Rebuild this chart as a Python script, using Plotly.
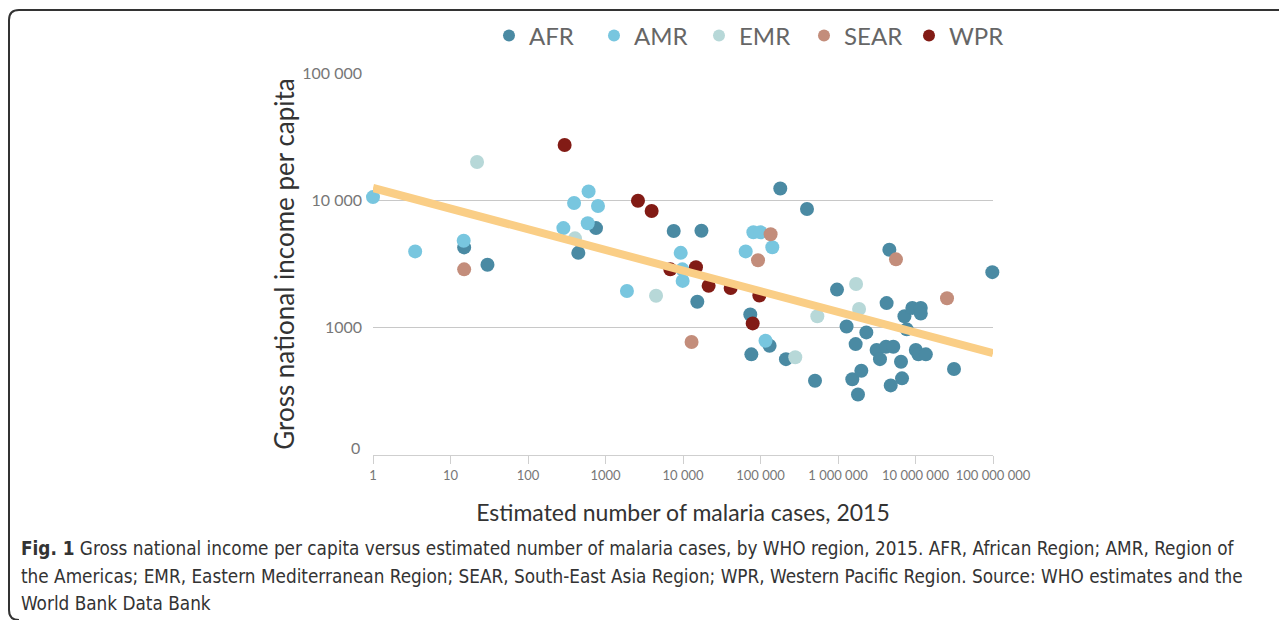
import plotly.graph_objects as go

# Data (cases, GNI per capita)
regions = ["AFR", "AMR", "EMR", "SEAR", "WPR"]
region_colors = ["#4A8AA3", "#78C6DF", "#B7D8D8", "#C38D7B", "#821B15"]

afr_cases = [15, 30, 754, 446, 7590, 17300, 15300, 180000, 398000, 73800,
             76200, 131000, 213000, 971000, 505000, 1.29e6, 2.32e6, 1.69e6, 1.53e6, 1.81e6,
             2.0e6, 3.15e6, 3.48e6, 4.16e6, 5.17e6, 4.24e6, 4.6e6, 6.5e6, 6.7e6, 4.79e6,
             7.2e6, 7.7e6, 9.1e6, 1.17e7, 1.17e7, 1.01e7, 1.09e7, 1.36e7, 3.14e7, 9.8e7]
afr_gni = [4270, 3120, 6050, 3870, 5740, 5770, 1600, 12400, 8550, 1270,
           617, 721, 566, 1990, 383, 1020, 918, 743, 393, 299,
           459, 667, 566, 708, 708, 1560, 4090, 540, 400, 352,
           1230, 970, 1430, 1430, 1290, 667, 617, 617, 473, 2730]

amr_cases = [1, 3.5, 14.8, 286, 393, 605, 590, 800, 1890, 9340,
             9800, 9900, 64400, 80900, 100000, 142000, 116000]
amr_gni = [10600, 3970, 4820, 6050, 9530, 11750, 6600, 9020, 1940, 3870,
           2870, 2330, 3970, 5610, 5610, 4280, 789]

emr_cases = [22, 404, 4490, 541000, 281000, 1.71e6, 1.87e6]
emr_gni = [20000, 5030, 1780, 1230, 585, 2200, 1400]

sear_cases = [15, 12900, 135000, 92900, 5.6e6, 2.55e7]
sear_gni = [2870, 771, 5410, 3380, 3440, 1700]

wpr_cases = [297, 2625, 3940, 6860, 14700, 21400, 41200, 96600, 79300]
wpr_gni = [27200, 9930, 8240, 2870, 2980, 2130, 2050, 1790, 1080]

trend_cases = [1, 1e8]
trend_gni = [12500, 630]

x_ticks = [1, 10, 100, 1000, 1e4, 1e5, 1e6, 1e7, 1e8]
x_ticktext = ["1", "10", "100", "1000", "10 000", "100 000", "1 000 000",
              "10 000 000", "100 000 000"]
y_ticks = [1000, 10000, 100000]
y_ticktext = ["1000", "10 000", "100 000"]

caption_lines = [
    "<b>Fig. 1</b> Gross national income per capita versus estimated number of malaria cases, "
    "by WHO region, 2015. AFR, African Region; AMR, Region of",
    "the Americas; EMR, Eastern Mediterranean Region; SEAR, South-East Asia Region; "
    "WPR, Western Pacific Region. Source: WHO estimates and the",
    "World Bank Data Bank",
]

# geometry: the page body has an 8px margin, so the figure is 8px smaller
# and every reference pixel position is shifted by OFF
OFF = 8
W, H = 1287 - OFF, 620 - OFF
L, R, T, B = 373 - OFF, 993 - OFF, 73 - OFF, 455 - OFF


def px_x(px):
    return (px - OFF - L) / (R - L)


def px_y(py):
    return (B - (py - OFF)) / (B - T)


chart_font = "Lato, 'Open Sans', sans-serif"
caption_font = "'DejaVu Sans Condensed', 'Open Sans', sans-serif"

fig = go.Figure()

series = [(afr_cases, afr_gni), (amr_cases, amr_gni), (emr_cases, emr_gni),
          (sear_cases, sear_gni), (wpr_cases, wpr_gni)]
for name, color, (xs, ys) in zip(regions, region_colors, series):
    fig.add_trace(go.Scatter(
        x=xs, y=ys, mode="markers", name=name,
        marker=dict(size=14, color=color, line=dict(width=0)),
        cliponaxis=False,
    ))

fig.add_trace(go.Scatter(
    x=trend_cases, y=trend_gni, mode="lines", showlegend=False,
    line=dict(color="#FACE86", width=8), cliponaxis=False,
))

fig.update_layout(
    width=W, height=H,
    margin=dict(l=L, r=W - R, t=T, b=H - B, autoexpand=False),
    paper_bgcolor="white", plot_bgcolor="white",
    font=dict(family=chart_font, color="#777"),
    showlegend=True,
    legend=dict(
        orientation="h", x=px_x(489), xanchor="left", y=px_y(36), yanchor="middle",
        font=dict(size=24, color="#666", family=chart_font),
        entrywidth=60, entrywidthmode="pixels",
        itemsizing="constant", bgcolor="rgba(0,0,0,0)",
    ),
    xaxis=dict(
        type="log", range=[0, 8],
        tickvals=x_ticks, ticktext=x_ticktext,
        tickfont=dict(size=13, color="#777"),
        showgrid=False, zeroline=False,
        showline=True, linecolor="#cfcfcf", linewidth=1,
        ticks="outside", ticklen=8, tickcolor="#cfcfcf",
        title=dict(text="Estimated number of malaria cases, 2015",
                   font=dict(size=23, color="#333"), standoff=23),
    ),
    yaxis=dict(
        type="log", range=[2, 5],
        tickvals=y_ticks, ticktext=y_ticktext,
        tickfont=dict(size=16, color="#777"),
        showgrid=True, gridcolor="#c8c8c8", gridwidth=1,
        zeroline=False, showline=False, ticks="",
        ticklabelstandoff=10,
        title=dict(text="Gross national income per capita",
                   font=dict(size=26, color="#333"), standoff=0),
    ),
)

# bottom label of the y axis
fig.add_annotation(x=px_x(362), y=2.06, xref="paper", yref="y", text="0",
                   showarrow=False, xanchor="right", yanchor="middle",
                   font=dict(size=16, color="#777", family=chart_font))

# caption under the chart
for text, py in zip(caption_lines, [548, 576, 603]):
    fig.add_annotation(x=px_x(19), y=px_y(py), xref="paper", yref="paper",
                       text=text, showarrow=False, xanchor="left", yanchor="middle",
                       align="left", font=dict(size=18.8, color="#333", family=caption_font))

# frame around the figure (top edge and left edge with rounded corners)
path = (f"M {px_x(1300)},{px_y(10)} L {px_x(19)},{px_y(10)} "
        f"Q {px_x(9)},{px_y(10)} {px_x(9)},{px_y(20)} "
        f"L {px_x(9)},{px_y(610)} Q {px_x(9)},{px_y(620)} {px_x(19)},{px_y(620)}")
fig.add_shape(type="path", path=path, xref="paper", yref="paper",
              line=dict(color="#333", width=2), layer="above")

fig.write_html("out.html")
